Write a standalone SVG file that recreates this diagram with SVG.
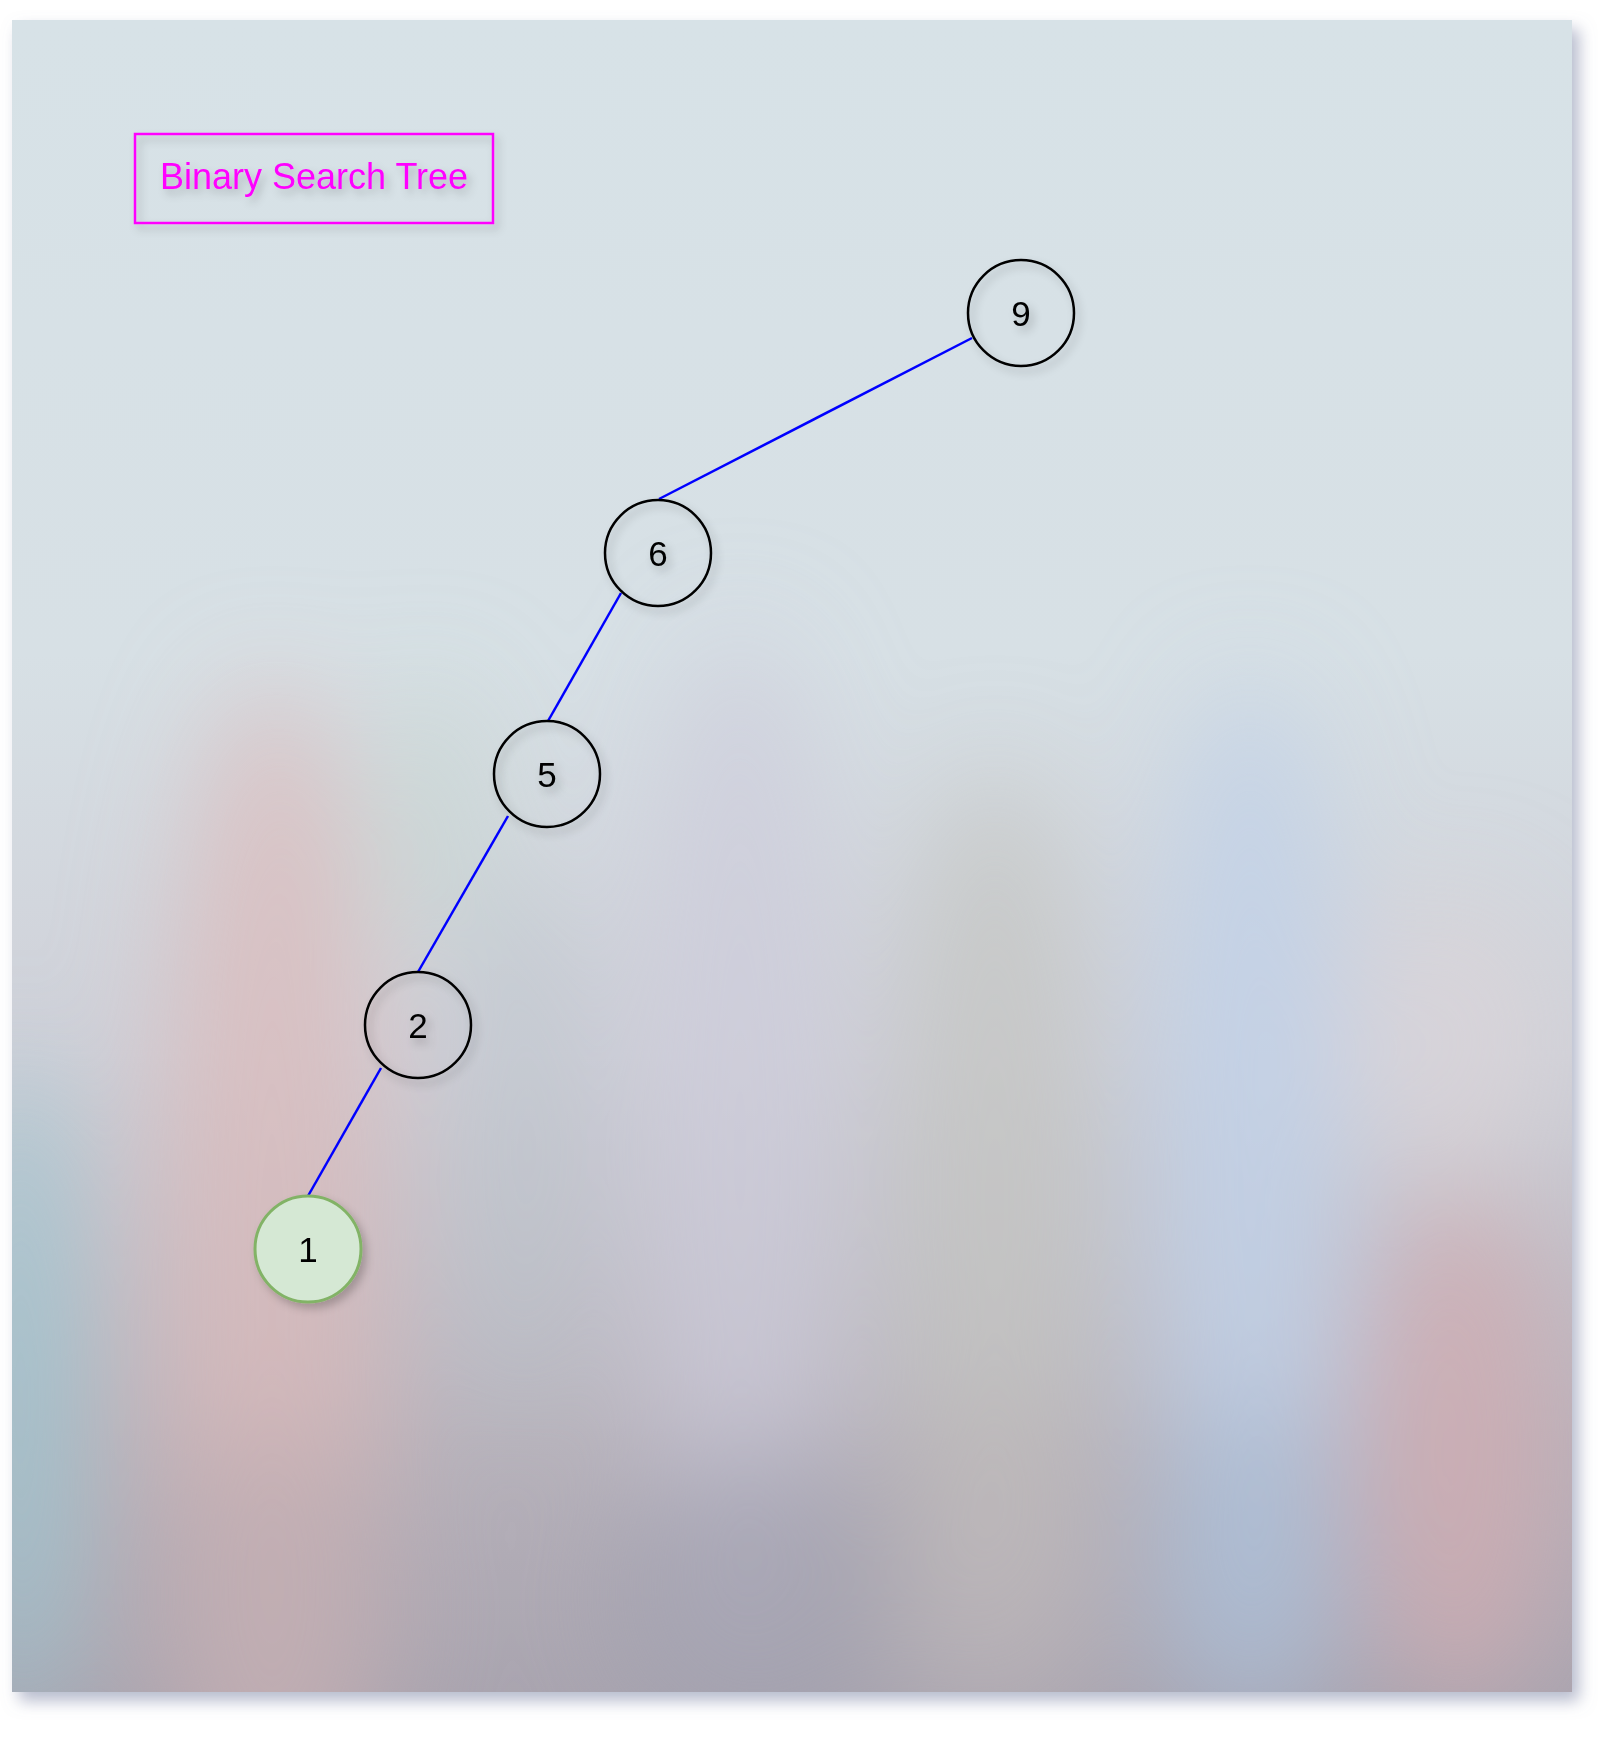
<svg xmlns="http://www.w3.org/2000/svg" width="1623" height="1746" viewBox="0 0 1623 1746">
<defs>
<style>
.node circle{fill:none;stroke:#000;stroke-width:2.5}
.node text{font-family:"Liberation Sans",Arial,sans-serif;font-size:35px;fill:#000;text-anchor:middle;dominant-baseline:central}
.edge{stroke:#0000ff;stroke-width:2.5;fill:none}
</style>
<linearGradient id="bg" x1="0" y1="0" x2="0" y2="1">
<stop offset="0" stop-color="#d7e2e7"/>
<stop offset="0.38" stop-color="#d7e0e5"/>
<stop offset="0.62" stop-color="#cfd0d8"/>
<stop offset="0.85" stop-color="#b7b2bb"/>
<stop offset="1" stop-color="#aaa5b0"/>
</linearGradient>
<clipPath id="panelClip"><rect x="12" y="20" width="1560" height="1672"/></clipPath>
<filter id="blur" x="-50%" y="-50%" width="200%" height="200%"><feGaussianBlur stdDeviation="55"/></filter>
<filter id="panelShadow" x="-5%" y="-5%" width="115%" height="115%"><feDropShadow dx="7" dy="9" stdDeviation="8" flood-color="#7c84a4" flood-opacity="0.55"/></filter>
<filter id="shadow" x="-30%" y="-30%" width="170%" height="170%"><feDropShadow dx="4" dy="5" stdDeviation="4" flood-color="#000" flood-opacity="0.22"/></filter>
</defs>
<g id="background">
<rect x="12" y="20" width="1560" height="1672" fill="url(#bg)" filter="url(#panelShadow)"/>
<g clip-path="url(#panelClip)" filter="url(#blur)">
<ellipse cx="272" cy="1280" rx="115" ry="600" fill="#dcb9b9" opacity="0.7"/>
<ellipse cx="272" cy="1620" rx="140" ry="180" fill="#b8a9b1" opacity="0.55"/>
<ellipse cx="430" cy="820" rx="55" ry="140" fill="#c4d6cf" opacity="0.6"/>
<ellipse cx="520" cy="1150" rx="70" ry="280" fill="#b9c3cb" opacity="0.55"/>
<ellipse cx="740" cy="1150" rx="105" ry="520" fill="#cdcbda" opacity="0.65"/>
<ellipse cx="760" cy="1600" rx="150" ry="150" fill="#a09fae" opacity="0.7"/>
<ellipse cx="995" cy="1200" rx="105" ry="430" fill="#c3c5c1" opacity="0.7"/>
<ellipse cx="995" cy="1570" rx="120" ry="170" fill="#bab4b7" opacity="0.6"/>
<ellipse cx="1250" cy="1180" rx="100" ry="500" fill="#c0d1e8" opacity="0.8"/>
<ellipse cx="1250" cy="1570" rx="100" ry="170" fill="#a6b8d0" opacity="0.7"/>
<ellipse cx="1460" cy="1450" rx="100" ry="260" fill="#d0acb2" opacity="0.75"/>
<ellipse cx="1450" cy="1040" rx="110" ry="150" fill="#dcd6d8" opacity="0.6"/>
<ellipse cx="20" cy="1400" rx="50" ry="340" fill="#9cc6d2" opacity="0.9"/>
</g>
</g>
<g id="title" filter="url(#shadow)">
<rect x="135" y="134" width="358" height="89" fill="none" stroke="#ff00ff" stroke-width="2.5"/>
<text x="160" y="189" font-family="'Liberation Sans',Arial,sans-serif" font-size="36" fill="#ff00ff">Binary Search Tree</text>
</g>
<g id="connectors">
<line class="edge" x1="972" y1="338" x2="659" y2="499"/>
<line class="edge" x1="621" y1="593" x2="548" y2="721"/>
<line class="edge" x1="508" y1="816" x2="418" y2="972"/>
<line class="edge" x1="381" y1="1068" x2="308" y2="1196"/>
</g>
<g id="node-9" class="node" filter="url(#shadow)"><circle cx="1021" cy="313" r="53"/><text x="1021" y="313">9</text></g>
<g id="node-6" class="node" filter="url(#shadow)"><circle cx="658" cy="553" r="53"/><text x="658" y="553">6</text></g>
<g id="node-5" class="node" filter="url(#shadow)"><circle cx="547" cy="774" r="53"/><text x="547" y="774">5</text></g>
<g id="node-2" class="node" filter="url(#shadow)"><circle cx="418" cy="1025" r="53"/><text x="418" y="1025">2</text></g>
<g id="node-1" class="node" filter="url(#shadow)"><circle cx="308" cy="1249" r="53" style="fill:#d5e8d4;stroke:#82b366;stroke-width:3"/><text x="308" y="1249">1</text></g>
</svg>
